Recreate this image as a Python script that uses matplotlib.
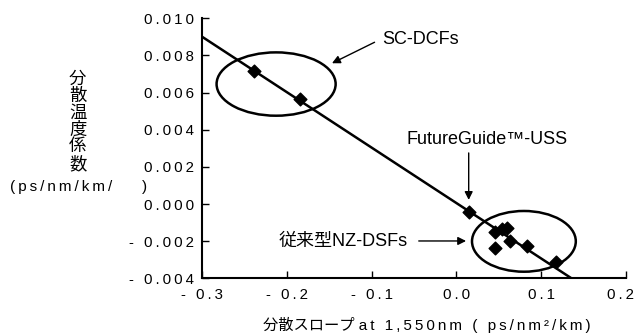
import matplotlib
matplotlib.use('Agg')
import matplotlib.pyplot as plt
import matplotlib.patches as patches
from matplotlib.transforms import ScaledTranslation

plt.rcParams['font.family'] = ['Liberation Sans', 'Noto Sans CJK JP', 'DejaVu Sans']

# measured fibres (dispersion slope, dispersion temperature coefficient)
slope = [-0.239, -0.185, 0.0153, 0.0459, 0.0541, 0.0600, 0.0632, 0.0827, 0.0459, 0.1173]
temp_coef = [0.00716, 0.00564, -0.00045, -0.00151, -0.00133, -0.00130, -0.00199, -0.00224, -0.00235, -0.00311]

# regression line end points
fit_x = [-0.3, 0.1357]
fit_y = [0.00901, -0.004]

# group ellipses: centre x, centre y, width, height
sc_dcf_ellipse = (-0.2126, 0.00646, 0.1404, 0.00341)
nz_dsf_ellipse = (0.0796, -0.00201, 0.1224, 0.00327)

x_ticks = [-0.3, -0.2, -0.1, 0.0, 0.1, 0.2]
x_ticklabels = ['- 0.3', '- 0.2', '- 0.1', '0.0', '0.1', '0.2']
y_ticks = [-0.004, -0.002, 0.0, 0.002, 0.004, 0.006, 0.008, 0.010]
y_ticklabels = ['- 0.004', '- 0.002', '0.000', '0.002', '0.004', '0.006', '0.008', '0.010']


def spaced(s):
    # imitate the wide letter spacing of the original
    return '\u2009'.join(s)


fig = plt.figure(figsize=(6.37, 3.35), dpi=100)
ax = fig.add_axes([202/637, 1 - 278.3/335, 424/637, 260/335])

ax.plot(fit_x, fit_y, color='black', linewidth=1.8, zorder=2)
ax.scatter(slope, temp_coef, marker='D', s=42, color='black', zorder=3)

for cx, cy, w, h in [sc_dcf_ellipse, nz_dsf_ellipse]:
    e = patches.Ellipse((cx, cy), w, h, fill=False, edgecolor='black', linewidth=1.8)
    ax.add_patch(e)

ax.set_xlim(-0.3, 0.2)
ax.set_ylim(-0.004, 0.010)
ax.set_xticks(x_ticks)
ax.set_xticklabels([spaced(t) for t in x_ticklabels])
ax.set_yticks(y_ticks)
ax.set_yticklabels([spaced(t) for t in y_ticklabels])
ax.tick_params(axis='both', direction='in', length=5, width=1, labelsize=10.8)
ax.tick_params(axis='x', pad=7)
ax.tick_params(axis='y', pad=6)
ax.spines['top'].set_visible(False)
ax.spines['right'].set_visible(False)
ax.spines['left'].set_linewidth(1.5)
ax.spines['bottom'].set_linewidth(1.5)

# last x label sits at the right edge of the picture
last = ax.get_xticklabels()[-1]
last.set_transform(last.get_transform() + ScaledTranslation(-4/72, 0, fig.dpi_scale_trans))

# annotations
arrow = dict(arrowstyle='-|>', color='black', lw=1, mutation_scale=12, shrinkA=0, shrinkB=0)
ax.text(-0.0876, 0.00887, 'SC-DCFs', fontsize=13, va='center', ha='left')
ax.annotate('', xy=(-0.1467, 0.00758), xytext=(-0.0965, 0.00871), arrowprops=arrow)

ax.text(-0.0585, 0.00345, 'FutureGuide\u2122-USS', fontsize=13, va='center', ha='left')
ax.annotate('', xy=(0.0145, 0.00022), xytext=(0.0145, 0.00275), arrowprops=arrow)

ax.text(-0.2102, -0.00203, '従来型NZ-DSFs', fontsize=13, va='center', ha='left')
ax.annotate('', xy=(0.0114, -0.00199), xytext=(-0.0444, -0.00199), arrowprops=arrow)

# axis labels
fig.text(77.7/637, 1 - 121.5/335, '\n'.join('分散温度係数'), fontsize=12.5,
         ha='center', va='center', linespacing=1.08)
fig.text(10/637, 1 - 186.7/335, spaced('(ps/nm/km/'), fontsize=11, ha='left', va='center')
fig.text(142/637, 1 - 186.7/335, ')', fontsize=11, ha='left', va='center')
fig.text(426.7/637, 1 - 325/335,
         '分散スロープ ' + spaced('at 1,550nm ( ps/nm\u00b2/km)'),
         fontsize=11, ha='center', va='center')

fig.savefig('out.png', dpi=100)
